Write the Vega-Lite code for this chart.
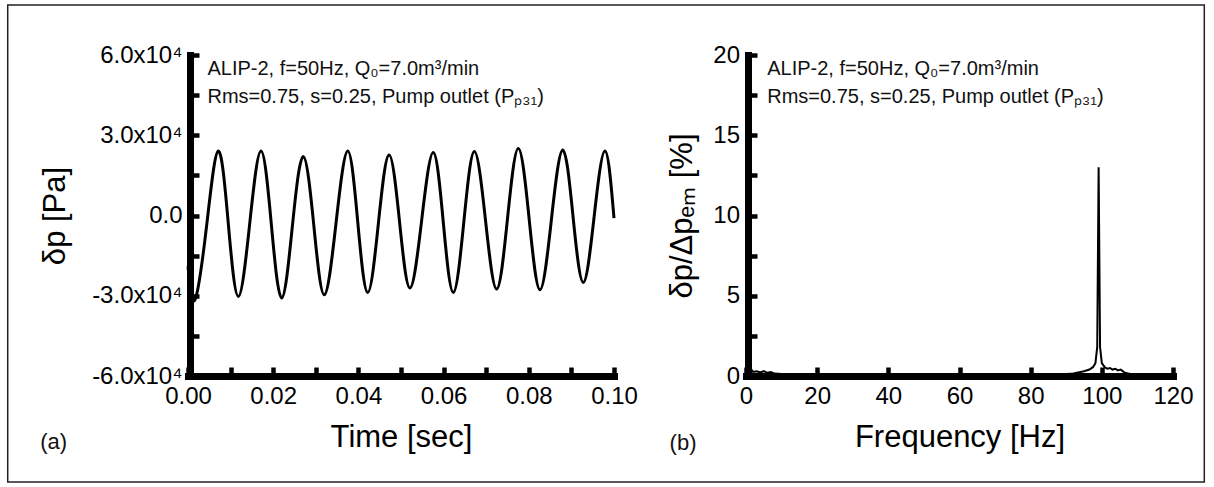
{
  "$schema": "https://vega.github.io/schema/vega-lite/v6.json",
  "background": "white",
  "padding": {"left": 6, "top": 4, "right": 5, "bottom": 4},
  "bounds": "flush",
  "spacing": 132,
  "config": {
    "view": {"stroke": null},
    "font": "Liberation Sans",
    "axis": {
      "labelFont": "Liberation Sans",
      "titleFont": "Liberation Sans",
      "labelColor": "#000",
      "titleColor": "#000",
      "domainColor": "#000",
      "tickColor": "#000",
      "grid": false,
      "titleFontWeight": "normal",
      "labelFlush": false,
      "labelOverlap": false,
      "domainWidth": 7,
      "domainCap": "square",
      "tickWidth": 4.5,
      "tickSize": -9,
      "labelFontSize": 24,
      "titleFontSize": 31
    }
  },
  "hconcat": [
    {
      "width": 426,
      "height": 321,
      "layer": [
        {
          "data": {"values": [
            {"t": 0, "dp": -19000}, {"t": 0.00164, "dp": -31500}, {"t": 0.00438, "dp": -3700},
            {"t": 0.00711, "dp": 24110}, {"t": 0.00946, "dp": -3000}, {"t": 0.01181, "dp": -30260},
            {"t": 0.01448, "dp": -3100}, {"t": 0.01714, "dp": 24110}, {"t": 0.01957, "dp": -3400},
            {"t": 0.022, "dp": -30860}, {"t": 0.02454, "dp": -3400}, {"t": 0.02707, "dp": 22010},
            {"t": 0.02954, "dp": -3800}, {"t": 0.032, "dp": -29630}, {"t": 0.03475, "dp": -2800},
            {"t": 0.03749, "dp": 24110}, {"t": 0.03984, "dp": -2300}, {"t": 0.04218, "dp": -28760},
            {"t": 0.04468, "dp": -3100}, {"t": 0.04718, "dp": 22610}, {"t": 0.04965, "dp": -2200},
            {"t": 0.05211, "dp": -27110}, {"t": 0.05485, "dp": -1800}, {"t": 0.05758, "dp": 23510},
            {"t": 0.05993, "dp": -2600}, {"t": 0.06228, "dp": -28760}, {"t": 0.06475, "dp": -2400},
            {"t": 0.06721, "dp": 23890}, {"t": 0.06984, "dp": -1800}, {"t": 0.07246, "dp": -27490},
            {"t": 0.075, "dp": -1200}, {"t": 0.07754, "dp": 25010}, {"t": 0.08009, "dp": -1400},
            {"t": 0.08263, "dp": -27750}, {"t": 0.0853, "dp": -1600}, {"t": 0.08796, "dp": 24490},
            {"t": 0.09038, "dp": -300}, {"t": 0.09279, "dp": -25010}, {"t": 0.09534, "dp": -400},
            {"t": 0.09789, "dp": 24110}, {"t": 0.1, "dp": -1000}
          ]},
          "mark": {"type": "line", "color": "#000", "strokeWidth": 3, "interpolate": "natural"},
          "encoding": {
            "x": {
              "field": "t", "type": "quantitative", "title": "Time [sec]",
              "scale": {"domain": [0, 0.1], "nice": false, "zero": false},
              "axis": {
                "values": [0, 0.01, 0.02, 0.03, 0.04, 0.05, 0.06, 0.07, 0.08, 0.09, 0.1],
                "labelExpr": "round(datum.value * 100) % 2 == 0 ? format(datum.value, '.2f') : ''",
                "labelPadding": 17.5,
                "titlePadding": 14
              }
            },
            "y": {
              "field": "dp", "type": "quantitative", "title": "δp [Pa]",
              "scale": {"domain": [-60000, 60000], "nice": false, "zero": false},
              "axis": {
                "values": [-60000, -45000, -30000, -15000, 0, 15000, 30000, 45000, 60000],
                "labelExpr": "datum.value == 0 ? '0.0' : (datum.value % 30000 == 0 ? (datum.value < 0 ? '-' : '') + format(abs(datum.value) / 10000, '.1f') + 'x10⁴' : '')",
                "labelFontSize": 24,
                "offset": -2,
                "labelPadding": 17,
                "titlePadding": 20
              }
            }
          }
        },
        {
          "data": {"values": [{}]},
          "mark": {"type": "text", "text": ["ALIP-2, f=50Hz, Q₀=7.0m³/min", "Rms=0.75, s=0.25, Pump outlet (Pₚ₃₁)"], "font": "Liberation Sans", "fontSize": 20, "lineHeight": 28, "align": "left", "baseline": "alphabetic", "color": "#111"},
          "encoding": {
            "x": {"datum": 0.00457, "type": "quantitative", "title": "Time [sec]", "scale": {"domain": [0, 0.1], "nice": false, "zero": false}},
            "y": {"datum": 52550, "type": "quantitative", "title": "δp [Pa]", "scale": {"domain": [-60000, 60000], "nice": false, "zero": false}}
          }
        },
        {
          "data": {"values": [{}]},
          "mark": {"type": "text", "text": "(a)", "font": "Liberation Sans", "fontSize": 22, "align": "center", "baseline": "middle", "color": "#111"},
          "encoding": {
            "x": {"datum": -0.03154, "type": "quantitative", "title": "Time [sec]", "scale": {"domain": [0, 0.1], "nice": false, "zero": false}},
            "y": {"datum": -84670, "type": "quantitative", "title": "δp [Pa]", "scale": {"domain": [-60000, 60000], "nice": false, "zero": false}}
          }
        },
        {
          "data": {"values": [{}]},
          "mark": {"type": "rect", "fill": null, "stroke": "#222", "strokeWidth": 1.5},
          "encoding": {
            "x": {"datum": -0.04232, "type": "quantitative", "title": "Time [sec]", "scale": {"domain": [0, 0.1], "nice": false, "zero": false}},
            "x2": {"datum": 0.23857},
            "y": {"datum": 78690, "type": "quantitative", "title": "δp [Pa]", "scale": {"domain": [-60000, 60000], "nice": false, "zero": false}},
            "y2": {"datum": -99620}
          }
        }
      ]
    },
    {
      "width": 427,
      "height": 321,
      "layer": [
        {
          "data": {"values": [
            {"f": 0, "a": 0.45}, {"f": 0.5, "a": 0.35}, {"f": 1, "a": 0.3}, {"f": 1.5, "a": 0.4},
            {"f": 2, "a": 0.25}, {"f": 3, "a": 0.3}, {"f": 4, "a": 0.22}, {"f": 5, "a": 0.3},
            {"f": 6, "a": 0.2}, {"f": 7, "a": 0.25}, {"f": 8, "a": 0.15}, {"f": 10, "a": 0.12},
            {"f": 15, "a": 0.08}, {"f": 20, "a": 0.06}, {"f": 30, "a": 0.05}, {"f": 40, "a": 0.05},
            {"f": 50, "a": 0.05}, {"f": 60, "a": 0.05}, {"f": 70, "a": 0.05}, {"f": 80, "a": 0.06},
            {"f": 88, "a": 0.1}, {"f": 92, "a": 0.15}, {"f": 95, "a": 0.3}, {"f": 96.5, "a": 0.4},
            {"f": 97.5, "a": 0.55}, {"f": 98.2, "a": 0.8}, {"f": 98.7, "a": 1.8}, {"f": 99.1, "a": 13.0},
            {"f": 99.5, "a": 1.8}, {"f": 100, "a": 0.8}, {"f": 100.8, "a": 0.55}, {"f": 101.5, "a": 0.45},
            {"f": 102.3, "a": 0.5}, {"f": 103, "a": 0.4}, {"f": 103.8, "a": 0.45}, {"f": 104.5, "a": 0.35},
            {"f": 105.3, "a": 0.4}, {"f": 106.5, "a": 0.2}, {"f": 108, "a": 0.12}, {"f": 112, "a": 0.08},
            {"f": 120, "a": 0.06}
          ]},
          "mark": {"type": "line", "color": "#000", "strokeWidth": 2},
          "encoding": {
            "x": {
              "field": "f", "type": "quantitative", "title": "Frequency [Hz]",
              "scale": {"domain": [0, 120], "nice": false, "zero": false},
              "axis": {
                "values": [0, 10, 20, 30, 40, 50, 60, 70, 80, 90, 100, 110, 120],
                "labelExpr": "datum.value % 20 == 0 ? format(datum.value, 'd') : ''",
                "labelPadding": 17.5,
                "titlePadding": 14
              }
            },
            "y": {
              "field": "a", "type": "quantitative", "title": "δp/Δpₑₘ [%]",
              "scale": {"domain": [0, 20], "nice": false, "zero": false},
              "axis": {
                "values": [0, 2.5, 5, 7.5, 10, 12.5, 15, 17.5, 20],
                "labelExpr": "datum.value % 5 == 0 ? format(datum.value, 'd') : ''",
                "offset": -2,
                "labelPadding": 17.5,
                "titlePadding": 14
              }
            }
          }
        },
        {
          "data": {"values": [{}]},
          "mark": {"type": "text", "text": ["ALIP-2, f=50Hz, Q₀=7.0m³/min", "Rms=0.75, s=0.25, Pump outlet (Pₚ₃₁)"], "font": "Liberation Sans", "fontSize": 20, "lineHeight": 28, "align": "left", "baseline": "alphabetic", "color": "#111"},
          "encoding": {
            "x": {"datum": 5.96, "type": "quantitative", "title": "Frequency [Hz]", "scale": {"domain": [0, 120], "nice": false, "zero": false}},
            "y": {"datum": 18.75, "type": "quantitative", "title": "δp/Δpₑₘ [%]", "scale": {"domain": [0, 20], "nice": false, "zero": false}}
          }
        },
        {
          "data": {"values": [{}]},
          "mark": {"type": "text", "text": "(b)", "font": "Liberation Sans", "fontSize": 22, "align": "center", "baseline": "middle", "color": "#111"},
          "encoding": {
            "x": {"datum": -17.7, "type": "quantitative", "title": "Frequency [Hz]", "scale": {"domain": [0, 120], "nice": false, "zero": false}},
            "y": {"datum": -4.19, "type": "quantitative", "title": "δp/Δpₑₘ [%]", "scale": {"domain": [0, 20], "nice": false, "zero": false}}
          }
        }
      ]
    }
  ]
}
